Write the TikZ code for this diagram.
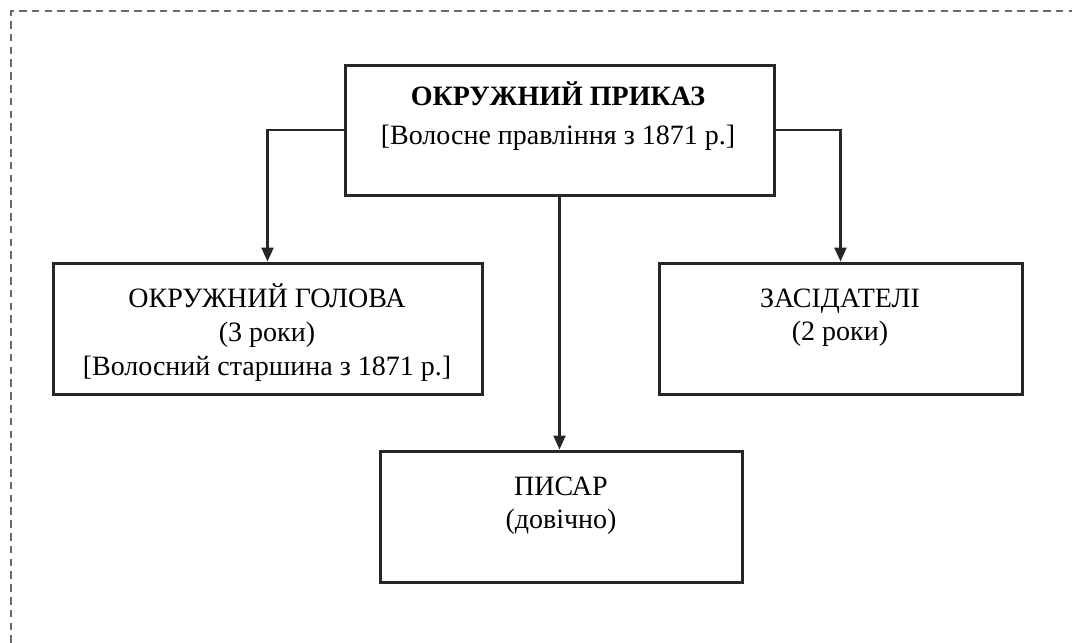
\documentclass[tikz,border=0pt]{standalone}
\usepackage{fontspec}
\setmainfont{Liberation Serif}
\usetikzlibrary{arrows.meta}
\definecolor{linegray}{HTML}{262626}
\definecolor{dashgray}{HTML}{6A6A6A}
\tikzset{
  box/.style={draw=linegray, line width=1.5pt, fill=white, inner sep=0pt},
  txt/.style={anchor=base, inner sep=0pt, text=black, font=\fontsize{14}{16}\selectfont},
  btxt/.style={txt, font=\fontsize{14}{16}\selectfont\bfseries},
  arr/.style={draw=linegray, line width=1.2pt, -{Triangle[length=7pt,width=6pt]}},
  frame/.style={draw=dashgray, line width=1.1pt, dash pattern=on 3.8pt off 2.6pt}
}
\begin{document}
\begin{tikzpicture}[x=0.5pt, y=-0.5pt]
\useasboundingbox (0,0) rectangle (1072,643);
\fill[white] (0,0) rectangle (1072,643);
% dashed frame (top and left)
\coordinate (fA) at (11,643);
\coordinate (fB) at (11,11);
\coordinate (fC) at (1072,11);
\draw[frame] (fA) -- (fB) -- (fC);
% boxes
\node[box, minimum width=214.5pt, minimum height=65pt] (prikaz) at (559.5,130) {};
\node[box, minimum width=214.5pt, minimum height=65.5pt] (golova) at (267.5,328.5) {};
\node[box, minimum width=181.5pt, minimum height=65.5pt] (zasid) at (840.5,328.5) {};
\node[box, minimum width=181pt, minimum height=65.5pt] (pysar) at (561,516.5) {};
% texts
\node[btxt] (prikaz1) at (558,105) {ОКРУЖНИЙ ПРИКАЗ};
\node[txt] (prikaz2) at (558,144) {[Волосне правління з 1871 р.]};
\node[txt] (golova1) at (267,307) {ОКРУЖНИЙ ГОЛОВА};
\node[txt] (golova2) at (267,341) {(3 роки)};
\node[txt] (golova3) at (267,375) {[Волосний старшина з 1871 р.]};
\node[txt] (zasid1) at (840,307) {ЗАСІДАТЕЛІ};
\node[txt] (zasid2) at (840,340) {(2 роки)};
\node[txt] (pysar1) at (561,495) {ПИСАР};
\node[txt] (pysar2) at (561,528) {(довічно)};
% connectors
\draw[arr] (prikaz.west) -| (golova.north);
\draw[arr] (prikaz.east) -| (zasid.north);
\draw[arr] (prikaz.south) -- (prikaz.south |- pysar.north);
\end{tikzpicture}
\end{document}
